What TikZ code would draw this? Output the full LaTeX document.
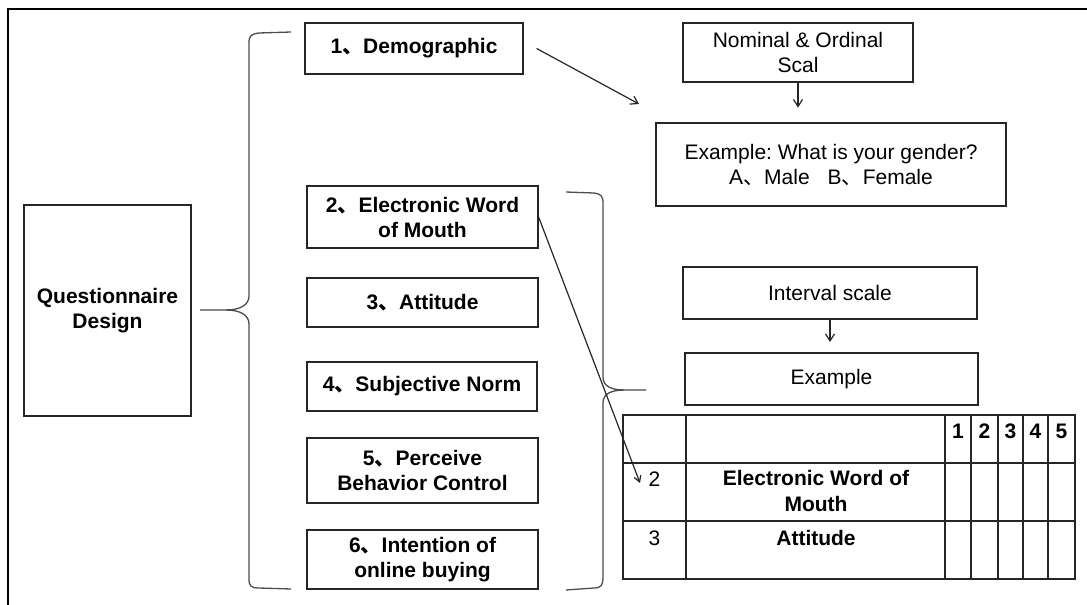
\documentclass[tikz,border=0pt]{standalone}
\usepackage{fontspec}
\setmainfont{Liberation Sans}
\newfontfamily\cjkfont{Noto Sans CJK SC}
\usetikzlibrary{arrows.meta}
\newcommand{\dun}{{\cjkfont 、}}
\frenchspacing
\begin{document}
\begin{tikzpicture}[x=1pt,y=-1pt,
  box/.style={draw=black!85, line width=1.2pt, inner sep=0pt, align=center,
    font=\fontsize{21}{25}\selectfont},
  bbox/.style={box, font=\fontsize{21}{25}\selectfont\bfseries},
  txt/.style={inner sep=0pt, align=center, font=\fontsize{21}{26}\selectfont},
  btxt/.style={txt, font=\fontsize{21}{26}\selectfont\bfseries},
  arr/.style={-{Straight Barb[length=7pt,width=9pt]}, line width=1.2pt, draw=black!85},
  bracepath/.style={draw=black!70, line width=1.3pt},
  frameline/.style={draw=black, line width=2.5pt},
  grid/.style={draw=black!85, line width=1.2pt}
]
\useasboundingbox (0,0) rectangle (1087,605);
% frame (top and left)
\draw[frameline] (8,605) -- (8,9) -- (1087,9);

% left column
\node[bbox, minimum width=167pt, minimum height=211pt] (qd) at (107.5,310.5) {Questionnaire\\Design};
\node[bbox, minimum width=218pt, minimum height=51pt] (demo) at (414,48.5) {1\dun Demographic};
\node[bbox, minimum width=231pt, minimum height=62pt] (ewom) at (422.5,217) {2\dun Electronic Word\\of Mouth};
\node[bbox, minimum width=231pt, minimum height=49pt] (att) at (422.5,302.5) {3\dun Attitude};
\node[bbox, minimum width=230pt, minimum height=49pt] (sn) at (422,386.5) {4\dun Subjective Norm};
\node[bbox, minimum width=231pt, minimum height=65pt] (pbc) at (422.5,470.5) {5\dun Perceive\\Behavior Control};
\node[bbox, minimum width=231pt, minimum height=59pt] (ioob) at (422.5,559.5) {6\dun Intention of\\online buying};

% left brace
\coordinate (lbtip) at (200,310);
\draw[bracepath] (291,32) -- (259,33) .. controls (251,34) and (249,36) .. (249,43)
  -- (249,296) .. controls (249,305) and (240,310) .. (226,310) -- (lbtip);
\draw[bracepath] (226,310) .. controls (240,310) and (249,315) .. (249,324)
  -- (249,579) .. controls (249,586) and (251,588) .. (259,588) -- (291,589);

% right brace
\coordinate (rbtip) at (646,390);
\draw[bracepath] (566,192) -- (594,193) .. controls (601,194) and (603,196) .. (603,203)
  -- (603,377) .. controls (603,386) and (611,390) .. (624,390) -- (rbtip);
\draw[bracepath] (624,390) .. controls (611,390) and (603,394) .. (603,403)
  -- (603,578) .. controls (603,585) and (601,588) .. (594,588) -- (566,590);

% right column
\node[box, minimum width=230pt, minimum height=59pt] (nom) at (798,52.5) {Nominal \& Ordinal\\Scal};
\node[box, minimum width=350pt, minimum height=83pt] (gen) at (831,164.5) {Example: What is your gender?\\A\dun Male\hspace{18pt}B\dun Female};
\node[box, minimum width=294pt, minimum height=52pt] (intv) at (830,293) {Interval scale};
\node[box, minimum width=293pt, minimum height=52pt] (ex) at (831.5,379) {Example};

% arrows
\coordinate (demoend) at (639,104);
\draw[arr] ([xshift=13pt]demo.east) -- (demoend);
\draw[arr] (nom.south) -- ++(0,25);
\draw[arr] (830,319) -- (830,342);
\coordinate (ewomend) at (640,483);
\draw[arr, -{Straight Barb[length=6pt,width=7pt]}] (ewom.east) -- (ewomend);

% table
\draw[grid] (623,415) rectangle (1075,579);
\draw[grid] (623,463) -- (1075,463);
\draw[grid] (623,521) -- (1075,521);
\foreach \xx in {686,945,971,998,1023,1048}
  \draw[grid] (\xx,415) -- (\xx,579);
\node[btxt, anchor=base] (h1) at (958,438) {1};
\node[btxt, anchor=base] (h2) at (984.5,438) {2};
\node[btxt, anchor=base] (h3) at (1010.5,438) {3};
\node[btxt, anchor=base] (h4) at (1035.5,438) {4};
\node[btxt, anchor=base] (h5) at (1061.5,438) {5};
\node[txt, anchor=base] (r2) at (654.5,486) {2};
\node[btxt, anchor=north] (r2t) at (816,470.5) {Electronic Word of\\Mouth};
\node[txt, anchor=base] (r3) at (654.5,545) {3};
\node[btxt, anchor=base] (r3t) at (816,545) {Attitude};
\end{tikzpicture}
\end{document}
